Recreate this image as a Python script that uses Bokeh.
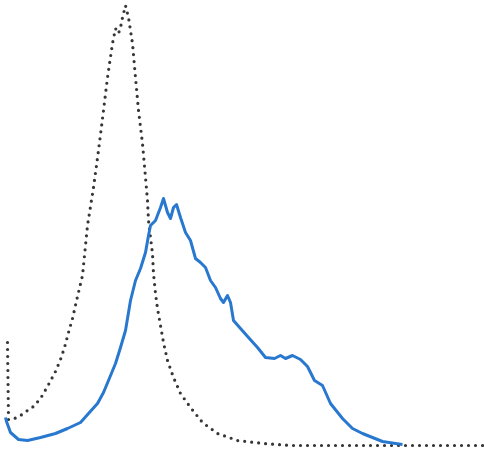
from bokeh.plotting import figure
from bokeh.models import Range1d
from bokeh.embed import file_html
from bokeh.resources import INLINE

# Isotype control (dotted) – fluorescence channel and event count
iso_channel = [7, 8, 12, 20, 27, 33, 40, 47, 55, 60, 64, 68, 72, 77, 82, 87, 93, 98, 103, 107,
               112, 115, 118, 120, 122, 125, 128, 132, 135, 138, 142, 145, 147, 148, 150, 152,
               153, 155, 157, 160, 163, 167, 173, 180, 190, 202, 217, 237, 263, 290, 484]
iso_count = [103, 26, 26, 30, 35, 39, 47, 59, 74, 86, 98, 113, 127, 149, 170, 220, 258, 295, 335, 368,
             402, 417, 412, 418, 428, 440, 428, 402, 368, 335, 302, 268, 245, 225, 208, 192,
             172, 152, 137, 120, 103, 85, 68, 52, 38, 23, 12, 5, 2, 0, 0]

# Antibody stained sample (solid blue)
ab_channel = [5, 6, 10, 18, 27, 40, 55, 67, 80, 88, 97, 103, 108, 115, 120, 125, 130, 135, 140, 145, 148,
              150, 155, 160, 163, 167, 170, 173, 176, 180, 185, 190, 195, 200, 205, 210, 215, 220, 223,
              227, 230, 233, 240, 248, 257, 265, 274, 280, 285, 292, 300, 307, 314, 322, 330, 342,
              352, 362, 372, 382, 395, 402]
ab_count = [28, 24, 13, 6, 5, 8, 12, 17, 23, 32, 42, 53, 65, 82, 98, 115, 145, 165, 177, 193, 210,
            220, 225, 238, 247, 233, 227, 238, 241, 228, 213, 205, 187, 183, 178, 165, 158, 147, 143,
            150, 143, 125, 117, 108, 98, 88, 87, 90, 87, 90, 86, 79, 65, 60, 42, 27,
            17, 12, 8, 4, 2, 1]

p = figure(width=484, height=450, output_backend="svg", toolbar_location=None,
           x_range=Range1d(0, 484), y_range=Range1d(-5, 445), min_border=0)
p.axis.visible = False
p.grid.visible = False
p.outline_line_color = None
p.background_fill_color = "white"
p.border_fill_color = "white"

p.line(iso_channel, iso_count, line_color="#363636", line_width=3.2,
       line_dash="0 7", line_cap="round", line_join="round")
p.line(ab_channel, ab_count, line_color="#2878cf", line_width=3,
       line_join="round")

open("out.html", "w").write(file_html(p, INLINE))
